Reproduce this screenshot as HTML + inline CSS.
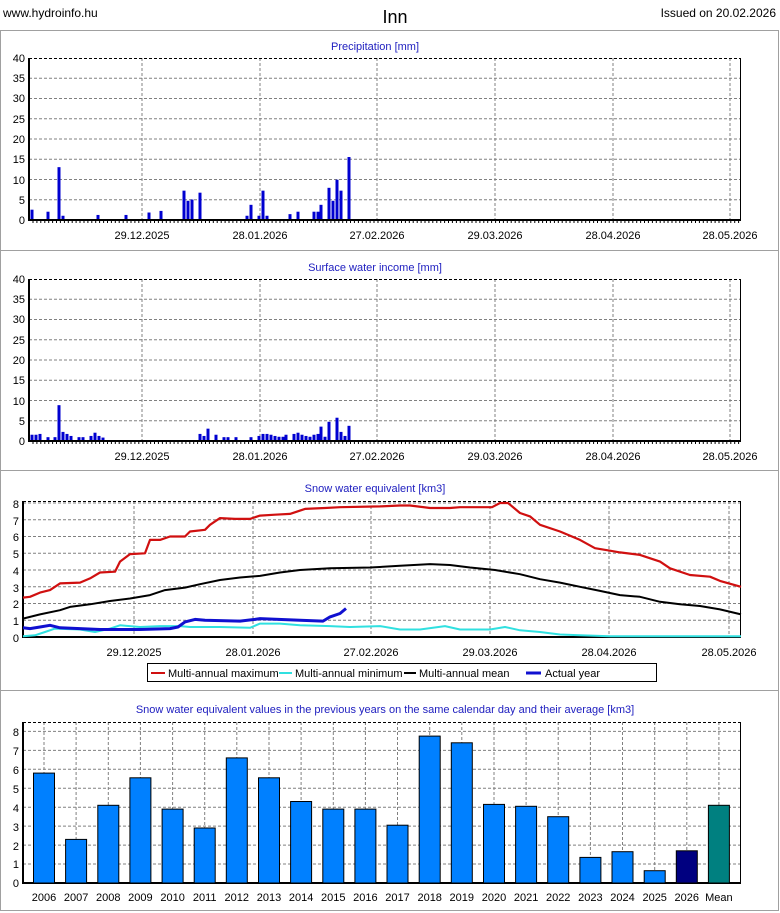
<!DOCTYPE html>
<html><head><meta charset="utf-8"><style>
body{margin:0;background:#fff;width:780px;height:913px;overflow:hidden;font-family:"Liberation Sans",sans-serif}
svg{position:absolute;left:0;top:0}
text{font-family:"Liberation Sans",sans-serif;font-size:11px}
.t{fill:#2020c0;text-anchor:middle}
.yl{text-anchor:end}
.xl{text-anchor:middle}
</style></head><body>
<svg id="s" width="780" height="913" xmlns="http://www.w3.org/2000/svg">
<g fill="none" stroke="#a0a0a0">
<rect x="0.5" y="30.5" width="778" height="220"/>
<rect x="0.5" y="250.5" width="778" height="220"/>
<rect x="0.5" y="470.5" width="778" height="220"/>
<rect x="0.5" y="690.5" width="778" height="220"/>
</g>
<g id="gg"></g>
<text x="3" y="17" style="font-size:12px">www.hydroinfo.hu</text>
<text x="395" y="23" style="font-size:18px" text-anchor="middle">Inn</text>
<text x="776" y="17" style="font-size:12px" text-anchor="end">Issued on 20.02.2026</text>
<text class="t" x="375" y="50">Precipitation [mm]</text>
<text class="t" x="375" y="271">Surface water income [mm]</text>
<text class="t" x="375" y="492">Snow water equivalent [km3]</text>
<text class="t" x="385" y="713">Snow water equivalent values in the previous years on the same calendar day and their average [km3]</text>
<g class="yl">
<text x="25" y="62">40</text><text x="25" y="82">35</text><text x="25" y="102">30</text><text x="25" y="123">25</text><text x="25" y="143">20</text><text x="25" y="163">15</text><text x="25" y="184">10</text><text x="25" y="204">5</text><text x="25" y="224">0</text>
<text x="25" y="283">40</text><text x="25" y="303">35</text><text x="25" y="323">30</text><text x="25" y="344">25</text><text x="25" y="364">20</text><text x="25" y="384">15</text><text x="25" y="405">10</text><text x="25" y="425">5</text><text x="25" y="445">0</text>
<text x="19" y="508">8</text><text x="19" y="525">7</text><text x="19" y="541">6</text><text x="19" y="558">5</text><text x="19" y="575">4</text><text x="19" y="592">3</text><text x="19" y="608">2</text><text x="19" y="625">1</text><text x="19" y="642">0</text>
<text x="19" y="736">8</text><text x="19" y="755">7</text><text x="19" y="774">6</text><text x="19" y="793">5</text><text x="19" y="812">4</text><text x="19" y="831">3</text><text x="19" y="850">2</text><text x="19" y="868">1</text><text x="19" y="887">0</text>
</g>
<g class="xl">
<text x="142" y="239">29.12.2025</text><text x="260" y="239">28.01.2026</text><text x="377" y="239">27.02.2026</text><text x="495" y="239">29.03.2026</text><text x="613" y="239">28.04.2026</text><text x="730" y="239">28.05.2026</text>
<text x="142" y="460">29.12.2025</text><text x="260" y="460">28.01.2026</text><text x="377" y="460">27.02.2026</text><text x="495" y="460">29.03.2026</text><text x="613" y="460">28.04.2026</text><text x="730" y="460">28.05.2026</text>
<text x="134" y="656">29.12.2025</text><text x="253" y="656">28.01.2026</text><text x="371" y="656">27.02.2026</text><text x="490" y="656">29.03.2026</text><text x="609" y="656">28.04.2026</text><text x="729" y="656">28.05.2026</text>
<text x="44" y="901">2006</text><text x="76.1" y="901">2007</text><text x="108.3" y="901">2008</text><text x="140.4" y="901">2009</text><text x="172.6" y="901">2010</text><text x="204.7" y="901">2011</text><text x="236.8" y="901">2012</text><text x="269" y="901">2013</text><text x="301.1" y="901">2014</text><text x="333.3" y="901">2015</text><text x="365.4" y="901">2016</text><text x="397.5" y="901">2017</text><text x="429.7" y="901">2018</text><text x="461.8" y="901">2019</text><text x="494" y="901">2020</text><text x="526.1" y="901">2021</text><text x="558.2" y="901">2022</text><text x="590.4" y="901">2023</text><text x="622.5" y="901">2024</text><text x="654.7" y="901">2025</text><text x="686.8" y="901">2026</text><text x="718.9" y="901">Mean</text>
</g>
<rect x="147.5" y="663.5" width="509" height="18" fill="#fff" stroke="#000"/>
<line x1="151" y1="673" x2="165" y2="673" stroke="#d01010" stroke-width="2"/>
<text x="168" y="677">Multi-annual maximum</text>
<line x1="279" y1="673" x2="292" y2="673" stroke="#30e0e0" stroke-width="2"/>
<text x="295" y="677">Multi-annual minimum</text>
<line x1="404" y1="673" x2="416" y2="673" stroke="#000" stroke-width="2"/>
<text x="419" y="677">Multi-annual mean</text>
<line x1="526" y1="673" x2="541" y2="673" stroke="#1010d0" stroke-width="3"/>
<text x="545" y="677">Actual year</text>
</svg>
<script>
(function(){
var G=document.getElementById('gg'),h='',i;
function L(x1,y1,x2,y2,st){h+='<line x1="'+x1+'" y1="'+y1+'" x2="'+x2+'" y2="'+y2+'" '+st+'/>';}
var dash='stroke="#808080" stroke-dasharray="3,2"';
function frame(x0,y0,x1,yb,xs,ys,dayTicks){
 xs.forEach(function(x){L(x,y0,x,yb,dash)});
 ys.forEach(function(y){L(x0,y,x1,y,dash)});
 L(x0,y0+0.5,x1,y0+0.5,'stroke="#000" stroke-dasharray="3,2"');
 L(x1-0.5,y0,x1-0.5,yb,'stroke="#000"');
 L(x0,y0,x0,yb+1,'stroke="#000" stroke-width="2"');
 L(x0,yb,x1,yb,'stroke="#000" stroke-width="2"');
 if(dayTicks){for(var x=x0+4;x<x1;x+=3.92)L(x.toFixed(1),yb,x.toFixed(1),yb+3,'stroke="#000"');}
}
var d1=[142,260,377,495,613,730];
var ya=[];for(i=1;i<8;i++)ya.push(220-i*20.25);
frame(29,58,741,220,d1,ya,true);
var yb2=[];for(i=1;i<8;i++)yb2.push(441-i*20.25);
frame(29,279,741,441,d1,yb2,true);
function bars(arr,base,sc){arr.forEach(function(b){var hh=b[1]*sc;h+='<rect x="'+(b[0]-1.5)+'" y="'+(base-hh)+'" width="3" height="'+hh+'" fill="#0000d0"/>';});}
bars([[32,2.3],[48,1.8],[59,12.8],[63,.8],[98,1],[126,1],[149,1.6],[161,2],[184,7],[188,4.5],[192,4.8],[200,6.5],[247,.8],[251,3.5],[259,.8],[263,7],[267,.8],[290,1.2],[298,1.8],[314,1.8],[318,1.8],[321,3.5],[329,7.7],[333,4.5],[337,9.7],[341,7],[349,15.3]],219,4.05);
bars([[32,1.3],[36,1.3],[40,1.5],[48,.7],[55,.7],[59,8.6],[63,2],[67,1.5],[71,1],[79,.7],[83,.7],[91,1],[95,1.8],[99,1],[103,.6],[200,1.5],[204,1],[208,2.8],[216,1.3],[224,.7],[228,.7],[236,.7],[251,.7],[259,1],[263,1.5],[267,1.5],[271,1.3],[275,1],[279,.8],[283,.8],[286,1.3],[294,1.5],[298,1.8],[302,1.3],[306,1],[310,.8],[314,1.3],[318,1.5],[321,3.3],[325,.8],[329,4.5],[337,5.5],[341,2],[345,1],[349,3.5]],440,4.05);
var d3=[134,253,371,490,609,729],y3=[];for(i=1;i<=8;i++)y3.push(637-i*16.75);
frame(23,501,741,637,d3,y3,false);
function line(p,c,w){var s=p.map(function(q){return q[0]+','+(637-q[1]*16.75).toFixed(1)}).join(' ');h+='<polyline points="'+s+'" fill="none" stroke="'+c+'" stroke-width="'+w+'" stroke-linejoin="round"/>';}
line([[23,.05],[35,.1],[45,.3],[55,.5],[80,.45],[95,.3],[110,.5],[120,.7],[140,.6],[160,.65],[180,.65],[190,.6],[220,.6],[250,.55],[260,.8],[280,.8],[300,.7],[330,.65],[350,.6],[380,.65],[400,.45],[420,.45],[445,.65],[460,.45],[490,.45],[505,.6],[520,.4],[540,.3],[560,.15],[580,.1],[610,.05],[741,.05]],'#30e0e0',2);
line([[23,1.1],[40,1.35],[60,1.6],[70,1.8],[90,1.95],[110,2.15],[130,2.3],[150,2.5],[165,2.8],[185,2.95],[200,3.15],[220,3.4],[240,3.55],[260,3.65],[280,3.85],[300,4],[330,4.1],[370,4.15],[400,4.25],[430,4.35],[450,4.3],[470,4.15],[495,4],[520,3.75],[540,3.45],[560,3.25],[580,3],[600,2.75],[620,2.5],[640,2.4],[660,2.1],[680,1.95],[700,1.85],[720,1.65],[741,1.35]],'#000',2);
line([[23,2.35],[30,2.4],[40,2.65],[50,2.8],[60,3.2],[80,3.25],[90,3.5],[100,3.85],[115,3.9],[120,4.5],[130,4.95],[145,5],[150,5.8],[160,5.8],[170,6],[185,6],[190,6.3],[205,6.4],[210,6.7],[220,7.1],[235,7.05],[250,7.05],[260,7.25],[275,7.3],[290,7.35],[305,7.65],[325,7.7],[340,7.75],[380,7.8],[400,7.85],[410,7.85],[430,7.7],[450,7.7],[460,7.75],[492,7.75],[500,8],[508,8],[520,7.4],[530,7.2],[540,6.7],[560,6.3],[580,5.8],[595,5.3],[610,5.15],[620,5.05],[640,4.9],[660,4.5],[670,4.1],[690,3.7],[710,3.6],[720,3.35],[741,3]],'#d01010',2.2);
line([[23,.55],[30,.5],[40,.6],[50,.7],[60,.55],[80,.5],[100,.45],[140,.45],[170,.5],[178,.6],[185,.9],[195,1.05],[205,1],[240,.95],[255,1.05],[260,1.1],[300,1],[323,.95],[330,1.2],[340,1.4],[346,1.7]],'#1010d0',3);
var xs4=[];for(i=0;i<22;i++)xs4.push(+(44+i*32.14).toFixed(1));
var y4=[];for(i=1;i<=8;i++)y4.push(883-i*18.95);
frame(23,722,741,883,xs4,y4,false);
var vv=[5.8,2.3,4.1,5.55,3.9,2.9,6.6,5.55,4.3,3.9,3.9,3.05,7.75,7.4,4.15,4.05,3.5,1.35,1.65,.65,1.7,4.1];
for(i=0;i<22;i++){
 var cx=xs4[i], yTop=883-vv[i]*18.95;
 var c=i==20?'#000080':(i==21?'#008080':'#0080ff');
 h+='<rect x="'+(cx-10.5)+'" y="'+yTop.toFixed(1)+'" width="21" height="'+(883-yTop).toFixed(1)+'" fill="'+c+'" stroke="#000"/>';
}
G.innerHTML=h;
})();
</script>
</body></html>
